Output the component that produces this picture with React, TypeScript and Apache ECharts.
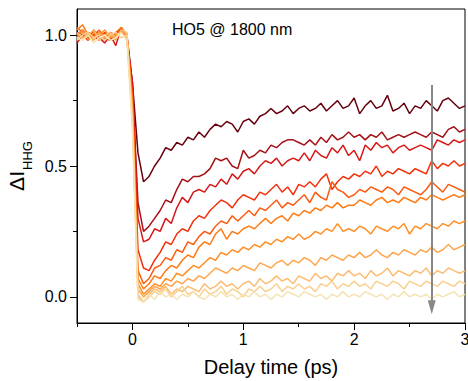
import React, { useEffect, useRef } from "react";
import * as echarts from "echarts";

const TIMES = [
  -0.5, -0.45, -0.4, -0.35, -0.3, -0.25, -0.2, -0.15, -0.1, -0.05,
  0, 0.05, 0.1, 0.15, 0.2, 0.25, 0.3, 0.35, 0.4, 0.45,
  0.5, 0.55, 0.6, 0.65, 0.7, 0.75, 0.8, 0.85, 0.9, 0.95,
  1, 1.05, 1.1, 1.15, 1.2, 1.25, 1.3, 1.35, 1.4, 1.45,
  1.5, 1.55, 1.6, 1.65, 1.7, 1.75, 1.8, 1.85, 1.9, 1.95,
  2, 2.05, 2.1, 2.15, 2.2, 2.25, 2.3, 2.35, 2.4, 2.45,
  2.5, 2.55, 2.6, 2.65, 2.7, 2.75, 2.8, 2.85, 2.9, 2.95,
  3,
];

const C1 = [
  1.01, 1.0, 0.99, 1.01, 1.0, 0.98, 1.0, 0.99, 1.02, 1.0,
  0.82, 0.55, 0.44, 0.46, 0.5, 0.53, 0.57, 0.56, 0.59, 0.58,
  0.61, 0.6, 0.63, 0.61, 0.64, 0.66, 0.65, 0.67, 0.66, 0.63,
  0.67, 0.68, 0.66, 0.69, 0.7, 0.72, 0.7, 0.71, 0.73, 0.7,
  0.72, 0.73, 0.71, 0.72, 0.74, 0.71, 0.73, 0.75, 0.72, 0.73,
  0.76, 0.7, 0.73, 0.75, 0.72, 0.73, 0.77, 0.71, 0.72, 0.74,
  0.7, 0.73, 0.72, 0.75, 0.73, 0.71, 0.75, 0.76, 0.74, 0.72,
  0.73,
];
const C2 = [
  1.0, 1.02, 0.99, 1.0, 1.01, 0.99, 0.98, 1.01, 1.02, 0.99,
  0.8, 0.36, 0.25, 0.27, 0.3, 0.33, 0.37, 0.36, 0.41, 0.45,
  0.44, 0.46, 0.46, 0.47, 0.49, 0.53, 0.52, 0.53, 0.5, 0.49,
  0.56, 0.53, 0.54, 0.56, 0.55, 0.58, 0.57, 0.59, 0.6, 0.6,
  0.59, 0.58, 0.6, 0.58, 0.61, 0.59, 0.62, 0.6, 0.61, 0.63,
  0.61, 0.62, 0.6, 0.62, 0.61, 0.63, 0.6, 0.61, 0.62, 0.61,
  0.62, 0.63, 0.62, 0.61, 0.63, 0.62, 0.61, 0.64, 0.65, 0.63,
  0.64,
];
const C3 = [
  0.97, 1.0, 0.98, 1.02, 0.99, 0.97, 1.0, 0.96, 1.03, 0.98,
  0.82, 0.3, 0.21, 0.22, 0.26, 0.25, 0.3, 0.28, 0.34, 0.38,
  0.36, 0.4, 0.41, 0.4, 0.43, 0.42, 0.45, 0.43, 0.47, 0.45,
  0.48, 0.49, 0.47, 0.5, 0.52, 0.51, 0.53, 0.5, 0.52, 0.53,
  0.52, 0.55, 0.52, 0.56, 0.54, 0.53, 0.57, 0.55, 0.58, 0.54,
  0.56, 0.52, 0.58, 0.56, 0.59, 0.57, 0.58, 0.55, 0.57, 0.58,
  0.56, 0.57, 0.58, 0.57, 0.56, 0.6, 0.59, 0.58, 0.6, 0.59,
  0.6,
];
const C4 = [
  1.0, 0.99, 1.01, 1.0, 0.98, 1.01, 0.99, 1.0, 1.02, 1.0,
  0.78, 0.18, 0.11, 0.1, 0.14, 0.17, 0.21, 0.2, 0.24, 0.26,
  0.25, 0.29, 0.31, 0.3, 0.33, 0.35, 0.37, 0.36, 0.34, 0.37,
  0.39, 0.38, 0.37, 0.4, 0.39, 0.41, 0.43, 0.4, 0.42, 0.39,
  0.43, 0.42, 0.44, 0.42, 0.45, 0.47, 0.41, 0.44, 0.46, 0.45,
  0.47, 0.46, 0.48, 0.47, 0.5, 0.46, 0.48, 0.47, 0.49, 0.48,
  0.47, 0.49, 0.48, 0.47, 0.52, 0.49, 0.51, 0.5, 0.52, 0.5,
  0.51,
];
const C5 = [
  1.03, 1.01, 0.99, 1.0, 1.02, 0.99, 1.01, 1.0, 1.02, 0.99,
  0.76, 0.1, 0.05, 0.07, 0.11, 0.12, 0.15, 0.14, 0.18, 0.17,
  0.21, 0.2, 0.23, 0.25, 0.24, 0.27, 0.29, 0.28, 0.31, 0.29,
  0.31, 0.33, 0.31, 0.34, 0.33, 0.35, 0.37, 0.34, 0.36, 0.35,
  0.37, 0.39, 0.36, 0.4, 0.38, 0.37, 0.44, 0.41, 0.4, 0.38,
  0.39, 0.41, 0.4, 0.42, 0.41, 0.4, 0.42, 0.41, 0.39, 0.42,
  0.41, 0.4, 0.39, 0.41, 0.44, 0.42, 0.4, 0.43, 0.42, 0.41,
  0.4,
];
const C6 = [
  1.02, 1.04, 1.0, 0.99, 1.01, 1.0, 0.99, 1.01, 1.03, 1.0,
  0.74, 0.07, 0.03, 0.05, 0.08, 0.07, 0.1, 0.12, 0.11, 0.14,
  0.16, 0.15, 0.19, 0.21, 0.2, 0.24, 0.26, 0.22, 0.25, 0.24,
  0.26, 0.27, 0.26, 0.28, 0.3, 0.28, 0.3, 0.31, 0.29, 0.32,
  0.31, 0.33, 0.32, 0.34, 0.33, 0.35, 0.34, 0.36, 0.34, 0.35,
  0.35, 0.37, 0.36, 0.35, 0.37, 0.38, 0.36, 0.37, 0.36, 0.38,
  0.37, 0.36, 0.38, 0.37, 0.39, 0.38, 0.37, 0.38, 0.39, 0.38,
  0.39,
];
const C7 = [
  1.0, 1.02, 0.98, 1.01, 1.0, 1.02, 0.99, 1.0, 1.01, 0.99,
  0.72, 0.05, 0.01, 0.03, 0.05, 0.04, 0.07, 0.06, 0.09, 0.08,
  0.1, 0.12, 0.11, 0.13, 0.15, 0.14, 0.17, 0.16, 0.18, 0.17,
  0.19, 0.18, 0.2, 0.19, 0.21, 0.2, 0.22, 0.21, 0.23, 0.22,
  0.24, 0.22, 0.23, 0.25, 0.24, 0.26, 0.25, 0.28, 0.25, 0.26,
  0.25, 0.27, 0.26, 0.24, 0.27, 0.26, 0.25, 0.27, 0.26, 0.28,
  0.24, 0.27, 0.26, 0.28, 0.27, 0.26, 0.28, 0.27, 0.29, 0.28,
  0.29,
];
const C8 = [
  0.99, 1.01, 1.0, 0.98, 1.01, 0.99, 1.0, 0.98, 1.02, 1.0,
  0.7, 0.03, 0.0, 0.02, 0.04, 0.03, 0.05, 0.04, 0.06, 0.05,
  0.07, 0.06, 0.08, 0.07, 0.09, 0.11, 0.1, 0.09, 0.11, 0.1,
  0.12, 0.11, 0.1, 0.13, 0.12, 0.11, 0.13, 0.14, 0.12, 0.14,
  0.13, 0.15, 0.14, 0.12, 0.15, 0.14, 0.16, 0.15, 0.14, 0.16,
  0.15, 0.17, 0.15, 0.16, 0.18, 0.16, 0.15, 0.17, 0.16, 0.18,
  0.17, 0.16, 0.18, 0.17, 0.19, 0.17, 0.18, 0.2, 0.18, 0.19,
  0.2,
];
const C9 = [
  1.01, 0.99, 1.0, 1.02, 0.98, 1.0, 1.01, 0.99, 1.02, 1.01,
  0.68, 0.01, -0.02, 0.01, 0.03, 0.02, 0.04, 0.01, 0.03, 0.02,
  0.04, 0.03, 0.02, 0.05, 0.03, 0.04, 0.06, 0.04, 0.05, 0.03,
  0.05, 0.06, 0.04, 0.07, 0.05, 0.06, 0.08, 0.06, 0.07, 0.05,
  0.08, 0.07, 0.06, 0.09, 0.07, 0.08, 0.06, 0.09, 0.08, 0.1,
  0.08, 0.09, 0.07, 0.1, 0.08, 0.09, 0.11, 0.08, 0.1, 0.09,
  0.08, 0.1, 0.09, 0.11, 0.08, 0.1, 0.09, 0.11, 0.1, 0.09,
  0.1,
];
const C10 = [
  0.98, 1.0, 1.01, 0.99, 1.0, 0.98, 1.0, 1.01, 0.99, 1.0,
  0.66, 0.0, -0.02, 0.0, 0.02, 0.01, 0.03, 0.0, 0.02, 0.04,
  0.01, 0.02, 0.0, 0.03, 0.01, 0.02, 0.04, 0.01, 0.03, 0.02,
  0.0, 0.03, 0.02, 0.04, 0.02, 0.03, 0.05, 0.02, 0.04, 0.03,
  0.05, 0.03, 0.04, 0.02, 0.05, 0.04, 0.06, 0.03, 0.05, 0.04,
  0.06, 0.04, 0.05, 0.03, 0.06, 0.05, 0.04, 0.06, 0.05, 0.03,
  0.06, 0.05, 0.04, 0.06, 0.05, 0.04, 0.06, 0.05, 0.04, 0.06,
  0.05,
];
const C11 = [
  0.99, 0.98, 1.0, 0.97, 0.99, 1.0, 0.98, 0.99, 1.01, 0.98,
  0.64, -0.01, -0.02, 0.01, -0.01, 0.02, 0.0, 0.01, -0.01, 0.01,
  0.0, 0.02, 0.0, -0.01, 0.01, 0.0, 0.02, 0.0, 0.01, -0.01,
  0.01, 0.0, 0.02, 0.0, 0.01, -0.01, 0.01, 0.0, 0.02, 0.01,
  0.0, 0.02, 0.01, 0.0, 0.01, -0.01, 0.01, 0.0, 0.02, 0.0,
  0.01, 0.0, 0.02, 0.01, 0.0, 0.01, -0.01, 0.01, 0.0, 0.02,
  0.0, 0.01, 0.0, 0.01, -0.01, 0.01, 0.0, 0.01, 0.02, 0.0,
  0.01,
];

const CURVES = [C1, C2, C3, C4, C5, C6, C7, C8, C9, C10, C11];
const COLORS = [
  "#67000d", "#a50f15", "#d81818", "#f4300c", "#fc5a0e", "#ff7a12",
  "#ff8f24", "#fda54e", "#fcbd72", "#f8d190", "#f5e3b3",
];

const X_MAJOR = [0, 1, 2, 3];
const X_MINOR = [-0.5, 0.5, 1.5, 2.5];
const Y_MAJOR = [0, 0.5, 1];
const Y_MINOR = [0.25, 0.75];

const ARROW_T = 2.7;
const ARROW_TOP = 0.81;
const ARROW_BOTTOM = -0.04;

const FONT = "Liberation Sans, Arial, sans-serif";

export default function App() {
  const ref = useRef<HTMLDivElement>(null);
  useEffect(() => {
    if (!ref.current) return;
    const chart = echarts.init(ref.current, undefined, { renderer: "svg" });
    const lineSeries = CURVES.map((c, i) => ({
      type: "line",
      xAxisIndex: 0,
      yAxisIndex: 0,
      data: TIMES.map((t, k) => [t, c[k]]),
      showSymbol: false,
      symbol: "none",
      lineStyle: { width: 1.5, color: COLORS[i] },
      itemStyle: { color: COLORS[i] },
      z: 2 + i * 0.01,
      silent: true,
    }));
    const option: any = {
      animation: false,
      textStyle: { fontFamily: FONT },
      title: {
        text: "HO5 @ 1800 nm",
        left: 172,
        top: 21,
        padding: 0,
        textStyle: { fontFamily: FONT, fontSize: 16, fontWeight: "normal", color: "#000" },
      },
      grid: {
        left: 77,
        right: 3,
        top: 9,
        bottom: 58,
        show: true,
        borderColor: "#000",
        borderWidth: 1,
        backgroundColor: "transparent",
        containLabel: false,
        outerBoundsMode: "none",
      },
      xAxis: [
        {
          type: "value",
          min: -0.5,
          max: 3,
          position: "bottom",
          name: "Delay time (ps)",
          nameLocation: "middle",
          nameGap: 34,
          nameTextStyle: { fontFamily: FONT, fontSize: 20, color: "#000" },
          axisLine: { show: true, onZero: false, lineStyle: { color: "#000", width: 1 } },
          axisTick: { show: true, customValues: X_MAJOR, length: 7, lineStyle: { color: "#000" } },
          axisLabel: {
            customValues: X_MAJOR,
            fontFamily: FONT,
            fontSize: 16,
            color: "#000",
            margin: 8,
            hideOverlap: false,
            formatter: (v: number) => String(v),
          },
          splitLine: { show: false },
        },
        {
          type: "value",
          min: -0.5,
          max: 3,
          position: "bottom",
          axisLine: { show: false, onZero: false },
          axisTick: { show: true, customValues: X_MINOR, length: 4, lineStyle: { color: "#000" } },
          axisLabel: { show: false },
          splitLine: { show: false },
        },
      ],
      yAxis: [
        {
          type: "value",
          min: -0.1,
          max: 1.1,
          position: "left",
          name: "{a|ΔI}{b|HHG}",
          nameLocation: "middle",
          nameGap: 38,
          nameTextStyle: {
            fontFamily: FONT,
            color: "#000",
            rich: {
              a: { fontFamily: FONT, fontSize: 21, lineHeight: 22, verticalAlign: "top", color: "#000" },
              b: { fontFamily: FONT, fontSize: 13, lineHeight: 13, verticalAlign: "top", padding: [15, 0, 0, 1], color: "#000" },
            },
          },
          axisLine: { show: true, onZero: false, lineStyle: { color: "#000", width: 1 } },
          axisTick: { show: true, customValues: Y_MAJOR, length: 7, lineStyle: { color: "#000" } },
          axisLabel: {
            customValues: Y_MAJOR,
            fontFamily: FONT,
            fontSize: 16,
            color: "#000",
            margin: 10,
            formatter: (v: number) => v.toFixed(1),
          },
          splitLine: { show: false },
        },
        {
          type: "value",
          min: -0.1,
          max: 1.1,
          position: "left",
          axisLine: { show: false, onZero: false },
          axisTick: { show: true, customValues: Y_MINOR, length: 4, lineStyle: { color: "#000" } },
          axisLabel: { show: false },
          splitLine: { show: false },
        },
      ],
      series: [
        ...lineSeries,
        {
          type: "line",
          xAxisIndex: 0,
          yAxisIndex: 0,
          data: [],
          silent: true,
          z: 5,
          markLine: {
            silent: true,
            symbol: ["none", "triangle"],
            symbolSize: [8, 14],
            label: { show: false },
            lineStyle: { color: "#888888", width: 2, type: "solid" },
            data: [[{ coord: [ARROW_T, ARROW_TOP] }, { coord: [ARROW_T, ARROW_BOTTOM] }]],
          },
        },
      ],
    };
    chart.setOption(option);
    return () => chart.dispose();
  }, []);
  return (
    <div
      ref={ref}
      style={{ position: "fixed", left: 0, top: 0, width: 468, height: 381, background: "#fff" }}
    />
  );
}
